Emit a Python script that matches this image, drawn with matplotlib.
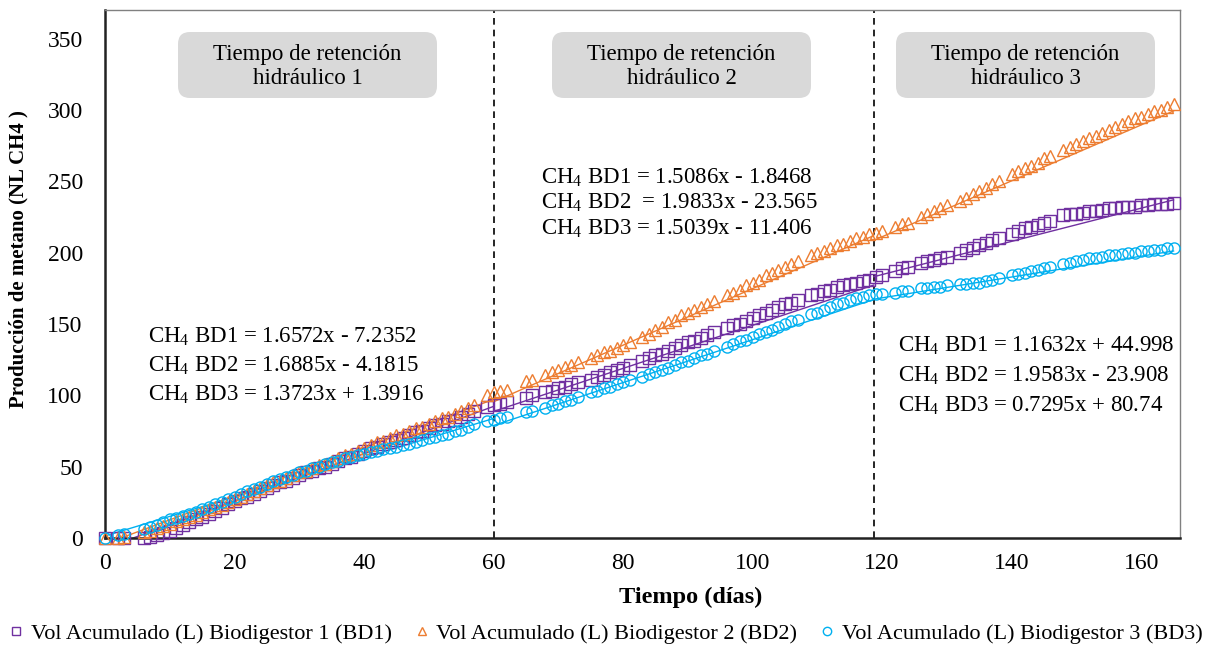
import numpy as np
import matplotlib
matplotlib.use("Agg")
import matplotlib.pyplot as plt
from matplotlib.lines import Line2D
from matplotlib.patches import FancyBboxPatch

plt.rcParams['font.family'] = ['Liberation Serif', 'DejaVu Serif']
plt.rcParams['mathtext.fontset'] = 'custom'
plt.rcParams['mathtext.rm'] = 'Liberation Serif'
plt.rcParams['mathtext.it'] = 'Liberation Serif:italic'
plt.rcParams['mathtext.bf'] = 'Liberation Serif:bold'

# dias de medicion
dias = [0, 2, 3, 6, 7, 8, 9, 10, 11, 12, 13, 14, 15, 16, 17, 18, 19, 20, 21, 22,
        23, 24, 25, 26, 27, 28, 29, 30, 31, 32, 33, 34, 35, 36, 37, 38, 39, 40, 41,
        42, 43, 44, 45, 46, 47, 48, 49, 50, 51, 52, 53, 54, 55, 56, 57,
        59, 60, 61, 62, 65, 66, 68, 69, 70, 71, 72, 73, 75, 76, 77, 78, 79, 80, 81,
        83, 84, 85, 86, 87, 88, 89, 90, 91, 92, 93, 94, 96, 97, 98, 99, 100, 101,
        102, 103, 104, 105, 106, 107, 109, 110, 111, 112, 113, 114, 115, 116, 117, 118,
        119, 120, 122, 123, 124, 126, 127, 128, 129, 130, 132, 133, 134, 135, 136,
        137, 138, 140, 141, 142, 143, 144, 145, 146, 148, 149, 150, 151, 152, 153,
        154, 155, 156, 157, 158, 159, 160, 161, 162, 163, 164, 165]

# volumen acumulado (NL CH4)
bd1 = [0, 0, 0, 0, 1, 2, 3.5, 5, 7, 9, 11, 13, 15, 17, 19, 21, 24, 26, 28, 29,
       31, 33, 35, 37, 39, 40, 42, 44, 46, 47, 49, 50, 52, 54, 56, 57, 59, 61, 63,
       64, 66, 67, 69, 70, 72, 74, 75, 77, 79, 80, 82, 83, 85, 87, 89,
       92, 93, 94, 95, 98, 100, 102, 103, 105, 106, 108, 109, 111, 113, 114, 116,
       118, 119, 121, 124, 126, 128, 129, 131, 133, 135, 137, 138, 140, 142, 144,
       147, 149, 150, 152, 154, 156, 158, 160, 162, 164, 165, 167, 170, 171, 173,
       174, 176, 177, 178, 179, 180, 181,
       183, 184, 187, 189, 190, 193, 194, 195, 196, 197, 200, 202, 203, 205, 207,
       209, 210, 213, 215, 217, 218, 219, 221, 222, 226, 227, 227, 228, 229, 229,
       230, 231, 231, 232, 232, 232, 233, 233, 234, 234, 234, 235]

bd2 = [0, 0, 1, 4, 5, 7, 8.5, 10, 12, 13, 15, 16, 18, 20, 22, 23, 25, 27, 29, 31,
       33, 35, 37, 39, 40, 42, 44, 46, 47, 49, 51, 52, 54, 56, 58, 59, 61, 63, 65,
       67, 68, 70, 72, 73, 75, 77, 78, 80, 82, 84, 85, 87, 89, 91, 93,
       100, 102, 103, 104, 110, 111, 114, 116, 118, 120, 121, 123, 126, 128, 130,
       131, 133, 135, 137, 141, 143, 146, 148, 151, 153, 156, 158, 160, 162, 164,
       166, 170, 172, 174, 177, 179, 181, 184, 186, 188, 190, 192, 194, 198, 200,
       201, 203, 205, 206, 208, 210, 211, 213,
       214, 215, 218, 220, 221, 225, 227, 229, 231, 233, 236, 238, 241, 243, 245,
       248, 250, 255, 257, 259, 261, 263, 266, 268, 272, 274, 276, 278, 280, 282,
       284, 286, 288, 290, 292, 294, 295, 297, 299, 300, 302, 304]

bd3 = [0, 2, 3, 6, 7.5, 9, 11, 13, 14, 15.5, 17, 18.5, 20, 22, 24, 25, 27, 29, 31,
       33, 34, 36, 38, 40, 41, 43, 44, 46, 47, 49, 50, 52, 53, 54, 56, 57, 58, 59,
       60, 61, 62, 63, 64, 65, 66, 67, 69, 70, 71, 72, 73, 75, 76, 78, 80,
       82, 83, 84, 85, 88, 89, 91, 93, 94, 96, 97, 99, 102, 103, 105, 106, 108,
       109, 111, 113, 115, 116, 118, 119, 121, 123, 124, 126, 128, 129, 131, 134,
       136, 138, 139, 141, 143, 144, 146, 148, 150, 152, 153, 157, 158, 160, 162,
       164, 165, 167, 168, 169, 170,
       171, 171, 172, 173, 173, 175, 175, 176, 176, 177, 178, 178, 179, 179, 180,
       181, 182, 184, 185, 186, 187, 188, 189, 190, 192, 193, 194, 195, 196, 196,
       197, 198, 198, 199, 200, 200, 201, 201, 202, 202, 203, 203]

# limites de cada tiempo de retencion y ecuaciones de tendencia
cortes = [0, 60, 118.7, 165]
pend_bd1 = [1.6572, 1.5086, 1.1632]
int_bd1 = [-7.2352, -1.8468, 44.998]
pend_bd2 = [1.6885, 1.9833, 1.9583]
int_bd2 = [-4.1815, -23.565, -23.908]
pend_bd3 = [1.3723, 1.5039, 0.7295]
int_bd3 = [1.3916, -11.406, 80.74]

ecuaciones = [
    [r'CH$_4$ BD1 = 1.6572x - 7.2352', r'CH$_4$ BD2 = 1.6885x - 4.1815',
     r'CH$_4$ BD3 = 1.3723x + 1.3916'],
    [r'CH$_4$ BD1 = 1.5086x - 1.8468', r'CH$_4$ BD2  = 1.9833x - 23.565',
     r'CH$_4$ BD3 = 1.5039x - 11.406'],
    [r'CH$_4$ BD1 = 1.1632x + 44.998', r'CH$_4$ BD2 = 1.9583x - 23.908',
     r'CH$_4$ BD3 = 0.7295x + 80.74'],
]
etiquetas = ['Vol Acumulado (L) Biodigestor 1 (BD1)',
             'Vol Acumulado (L) Biodigestor 2 (BD2)',
             'Vol Acumulado (L) Biodigestor 3 (BD3)']
colores = ['#7030A0', '#ED7D31', '#00B0F0']
marcadores = ['s', '^', 'o']

fig = plt.figure(figsize=(12.11, 6.48), dpi=100)
ax = fig.add_axes([0.0867, 0.1698, 0.8877, 0.8148])

series = [bd1, bd2, bd3]
pendientes = [pend_bd1, pend_bd2, pend_bd3]
interceptos = [int_bd1, int_bd2, int_bd3]
for i in range(3):
    ax.plot(dias, series[i], linestyle='none', marker=marcadores[i], markersize=8,
            markerfacecolor='none', markeredgecolor=colores[i], markeredgewidth=1.0,
            clip_on=False, zorder=3)
    for k in range(3):
        xs = np.array([cortes[k], cortes[k + 1]])
        ax.plot(xs, pendientes[i][k] * xs + interceptos[i][k], color=colores[i],
                lw=1.0, zorder=2)

for c in cortes[1:3]:
    ax.axvline(c, color='black', ls=(0, (4, 3)), lw=1.2, zorder=1)

# ecuaciones
pos_ec = [(6.6, [141, 120.6, 100.3]), (67.4, [252.5, 235, 216.7]),
          (122.4, [134.6, 113.6, 92.6])]
for (x0, ys), textos in zip(pos_ec, ecuaciones):
    for y, t in zip(ys, textos):
        ax.text(x0, y, t, fontsize=16.5, ha='left', va='center')

# cajas de tiempo de retencion (en pulgadas de la figura)
for n, x0 in enumerate([1.78, 5.52, 8.96]):
    caja = FancyBboxPatch((x0, 5.50), 2.59, 0.66,
                          boxstyle='round,pad=0,rounding_size=0.12',
                          transform=fig.dpi_scale_trans, fc='#D9D9D9', ec='none')
    fig.add_artist(caja)
    fig.text(x0 + 2.59 / 2, 5.815, 'Tiempo de retención\nhidráulico %d' % (n + 1),
             transform=fig.dpi_scale_trans, ha='center', va='center',
             fontsize=16.5, linespacing=1.15)

ax.set_xlim(0, 166)
ax.set_ylim(0, 370)
ax.set_xticks(range(0, 161, 20))
ax.set_yticks(range(0, 351, 50))
ax.tick_params(length=0, labelsize=17)
ax.tick_params(axis='y', pad=16)
ax.tick_params(axis='x', pad=11)
for s in ['left', 'bottom']:
    ax.spines[s].set_linewidth(1.8)
    ax.spines[s].set_color('#222222')
for s in ['top', 'right']:
    ax.spines[s].set_linewidth(1.0)
    ax.spines[s].set_color('#808080')

ax.set_xlabel('Tiempo (días)', fontsize=17.5, fontweight='bold')
ax.set_ylabel('Producción de metano (NL CH4 )', fontsize=15, fontweight='bold')
ax.xaxis.set_label_coords(0.545, -0.093)
ax.yaxis.set_label_coords(-0.071, 0.528)

manejadores = [Line2D([], [], ls='none', marker=m, markersize=6, markerfacecolor='none',
                      markeredgecolor=c, markeredgewidth=1.0)
               for m, c in zip(marcadores, colores)]
fig.legend(manejadores, etiquetas, loc='center', bbox_to_anchor=(0.5, 0.022),
           ncol=3, frameon=False, fontsize=16, handlelength=0.7,
           handletextpad=0.3, columnspacing=1.0)

fig.savefig('out.png', dpi=100)
